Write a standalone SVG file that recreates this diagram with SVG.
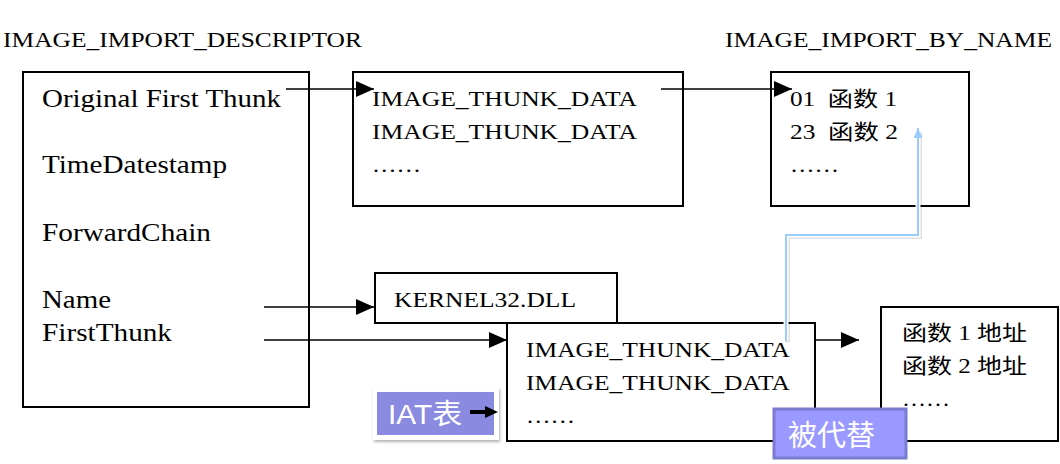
<svg xmlns="http://www.w3.org/2000/svg" width="1060" height="464" viewBox="0 0 1060 464">
<style>
.box{fill:#fff;stroke:#000;stroke-width:2}
.t{font-family:"Liberation Serif","Noto Sans CJK SC",serif;font-size:21px;fill:#000;white-space:pre}
.tl{font-family:"Liberation Serif",serif;font-size:25px;fill:#000}
.c{fill:none;stroke:#000;stroke-width:1.6}
.tag{font-family:"Liberation Sans","Noto Sans CJK SC",sans-serif;fill:#fff}
</style>
<defs>
<marker id="ah" markerWidth="18" markerHeight="16" refX="18" refY="8" orient="auto" markerUnits="userSpaceOnUse"><path d="M0,0 L18,8 L0,16 z" fill="#000"/></marker>
<marker id="ahb" markerWidth="10" markerHeight="9" refX="10" refY="4.5" orient="auto" markerUnits="userSpaceOnUse"><path d="M0,0 L10,4.5 L0,9 z" fill="#99ccff"/></marker>
<filter id="sh" x="-10%" y="-20%" width="130%" height="150%"><feDropShadow dx="1" dy="2" stdDeviation="1.5" flood-color="#000" flood-opacity="0.3"/></filter>
</defs>

<text class="t" x="3" y="47" textLength="359" lengthAdjust="spacingAndGlyphs">IMAGE_IMPORT_DESCRIPTOR</text>
<text class="t" x="725" y="47" textLength="327" lengthAdjust="spacingAndGlyphs">IMAGE_IMPORT_BY_NAME</text>

<g id="descriptor">
<rect class="box" x="23" y="72" width="286" height="335"/>
<text class="tl" x="42" y="107" textLength="239" lengthAdjust="spacingAndGlyphs">Original First Thunk</text>
<text class="tl" x="42" y="173" textLength="185" lengthAdjust="spacingAndGlyphs">TimeDatestamp</text>
<text class="tl" x="42" y="241" textLength="169" lengthAdjust="spacingAndGlyphs">ForwardChain</text>
<text class="tl" x="42" y="308" textLength="69" lengthAdjust="spacingAndGlyphs">Name</text>
<text class="tl" x="42" y="341" textLength="130" lengthAdjust="spacingAndGlyphs">FirstThunk</text>
</g>

<g id="int">
<rect class="box" x="353" y="72" width="330" height="134"/>
<text class="t" x="372" y="106" textLength="265" lengthAdjust="spacingAndGlyphs">IMAGE_THUNK_DATA</text>
<text class="t" x="372" y="139" textLength="265" lengthAdjust="spacingAndGlyphs">IMAGE_THUNK_DATA</text>
<text class="t" x="372" y="172" textLength="49" lengthAdjust="spacingAndGlyphs">……</text>
</g>

<g id="byname">
<rect class="box" x="771" y="72" width="198" height="134"/>
<text class="t" x="790" y="106" textLength="107" lengthAdjust="spacingAndGlyphs">01  函数 1</text>
<text class="t" x="790" y="139" textLength="108" lengthAdjust="spacingAndGlyphs">23  函数 2</text>
<text class="t" x="790" y="172" textLength="49" lengthAdjust="spacingAndGlyphs">……</text>
</g>

<g id="dllname">
<rect class="box" x="375" y="273" width="242" height="50"/>
<text class="t" x="394" y="307" textLength="182" lengthAdjust="spacingAndGlyphs">KERNEL32.DLL</text>
</g>

<g id="iat">
<rect class="box" x="507" y="323" width="308" height="118"/>
<text class="t" x="526" y="357" textLength="264" lengthAdjust="spacingAndGlyphs">IMAGE_THUNK_DATA</text>
<text class="t" x="526" y="390" textLength="264" lengthAdjust="spacingAndGlyphs">IMAGE_THUNK_DATA</text>
<text class="t" x="526" y="423" textLength="49" lengthAdjust="spacingAndGlyphs">……</text>
</g>

<g id="addr">
<rect class="box" x="881" y="307" width="177" height="134"/>
<text class="t" x="902" y="340" textLength="125" lengthAdjust="spacingAndGlyphs">函数 1 地址</text>
<text class="t" x="902" y="373" textLength="125" lengthAdjust="spacingAndGlyphs">函数 2 地址</text>
<text class="t" x="902" y="406" textLength="48" lengthAdjust="spacingAndGlyphs">……</text>
</g>

<g id="connectors">
<path class="c" d="M286,89 H374" marker-end="url(#ah)"/>
<path class="c" d="M661,89 H792" marker-end="url(#ah)"/>
<path class="c" d="M264,307 H374" marker-end="url(#ah)"/>
<path class="c" d="M264,340 H507" marker-end="url(#ah)"/>
<path class="c" d="M815,340 H859" marker-end="url(#ah)"/>
<path d="M786,341 V235 H918 V130" fill="none" stroke="#000" stroke-opacity="0.12" stroke-width="5" transform="translate(1.5,1.5)"/>
<path d="M786,341 V235 H918 V130" fill="none" stroke="#fff" stroke-width="5"/>
<path d="M786,341 V235 H918 V128" fill="none" stroke="#99ccff" stroke-width="2" marker-end="url(#ahb)"/>
</g>

<g id="iat-tag">
<rect x="373" y="387" width="126" height="53" fill="#fff" filter="url(#sh)"/>
<rect x="377" y="392" width="117" height="43" fill="#8a8ae0"/>
<text class="tag" x="388" y="424" font-size="28" textLength="74" lengthAdjust="spacingAndGlyphs">IAT表</text>
<path d="M470,410 H485 V406 L498,412 L485,418 V414 H470 Z" fill="#000"/>
</g>

<g id="replaced-tag">
<rect x="774" y="409" width="132" height="49" fill="#9999ff" stroke="#7b7bd0" stroke-width="3"/>
<text class="tag" x="788" y="446" font-size="29" fill="#f0f0ff" textLength="87" lengthAdjust="spacingAndGlyphs">被代替</text>
</g>
</svg>
